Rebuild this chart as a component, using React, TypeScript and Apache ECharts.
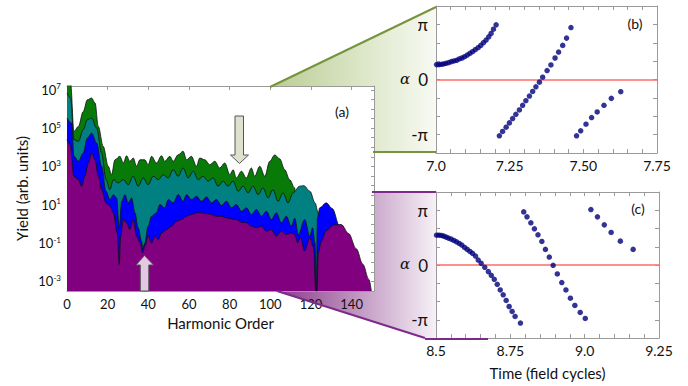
import React, { useEffect, useRef } from "react";
import * as echarts from "echarts";

// ---------- Panel (a): yield spectra, [harmonic order, log10(yield)] ----------
const greenSpectrum = [
  [0, 7.4], [1.8, 7.3], [3.4, 4.83], [5.6, 5.09], [8.0, 5.87], [10.0, 6.48], [12.1, 6.57], [13.8, 6.31],
  [15.4, 5.09], [17.8, 4.05], [20.3, 3.01], [21.9, 2.57], [23.6, 3.35], [26.0, 3.53], [27.7, 3.18],
  [29.3, 3.56], [30.9, 3.27], [32.6, 3.44], [34.2, 3.01], [35.9, 3.35], [38.3, 3.35], [39.9, 3.09],
  [41.6, 3.53], [44.0, 3.18], [46.5, 3.56], [48.1, 3.27], [50.6, 3.53], [52.2, 3.27], [54.7, 3.61],
  [57.1, 3.79], [58.8, 3.35], [61.2, 3.53], [63.7, 3.01], [65.3, 3.44], [67.8, 3.35], [70.2, 3.09],
  [72.7, 3.27], [75.1, 2.92], [77.6, 3.18], [80.1, 2.57], [81.7, 2.83], [83.3, 2.4], [85.8, 2.75],
  [88.2, 2.4], [90.7, 2.92], [92.3, 2.49], [94.8, 3.01], [97.3, 2.49], [99.7, 3.27], [102.2, 3.6],
  [104.6, 3.4], [107.1, 2.83], [109.5, 2.31], [112.0, 1.88], [113.5, -3.5],
];
const tealSpectrum = [
  [0, 6.83], [1.8, 6.57], [3.4, 4.4], [5.6, 4.31], [8.0, 4.92], [10.0, 5.44], [12.1, 5.52], [14.6, 5.0],
  [17.0, 3.7], [19.2, 2.31], [21.1, 1.79], [22.8, 2.31], [25.2, 2.14], [27.7, 2.31], [30.1, 2.05],
  [32.6, 2.49], [35.0, 1.97], [37.5, 2.4], [39.9, 2.05], [42.4, 2.49], [44.9, 2.31], [47.3, 2.57],
  [49.8, 2.4], [52.2, 2.83], [54.7, 2.49], [57.1, 2.92], [59.6, 2.4], [62.1, 2.75], [64.5, 2.31],
  [67.0, 2.49], [69.4, 2.23], [71.9, 2.4], [74.3, 1.97], [76.8, 2.23], [79.2, 1.97], [81.7, 2.23],
  [84.2, 1.7], [86.6, 1.97], [89.1, 1.62], [91.5, 1.97], [94.0, 1.53], [96.4, 1.88], [98.9, 1.36],
  [101.3, 1.79], [103.8, 1.18], [106.3, 1.62], [108.7, 1.1], [111.2, 1.62], [114.4, 1.97],
  [116.5, 2.0], [119.5, 1.7], [122.0, 1.1], [123.5, 0.6], [124.5, -3.5],
];
const blueSpectrum = [
  [0, 5.52], [2.3, 5.26], [3.4, 3.53], [5.6, 3.27], [8.0, 3.7], [10.0, 4.48], [12.1, 4.74], [14.6, 4.22],
  [17.0, 3.01], [19.2, 1.7], [21.1, 1.27], [22.8, 1.53], [24.4, 1.36], [25.7, -0.2], [26.9, 1.18],
  [28.5, 1.53], [30.1, 1.1], [31.8, 1.36], [33.4, 0.58], [35.0, -0.2], [36.7, -0.9], [37.2, -1.3],
  [38.3, -0.99], [39.9, -0.12], [41.6, 0.4], [44.0, 0.58], [45.7, 1.01], [48.1, 0.84], [49.8, 1.27],
  [52.2, 1.1], [54.7, 1.53], [57.1, 1.18], [58.8, 1.53], [61.2, 1.27], [63.7, 1.44], [66.1, 1.18],
  [68.6, 1.41], [71.1, 1.1], [73.5, 1.27], [76.0, 0.96], [78.4, 1.18], [80.9, 0.84], [83.3, 1.01],
  [85.8, 0.66], [88.2, 0.84], [90.7, 0.49], [93.2, 0.75], [95.6, 0.4], [98.1, 0.66], [100.5, 0.23],
  [103.0, 0.58], [105.4, 0.06], [107.9, 0.4], [110.3, -0.12], [112.0, 0.3], [113.8, -0.55],
  [116.9, 0.23], [119.4, -0.64], [120.8, -0.2], [122.0, -1.0], [122.6, -3.5], [123.2, 0.3],
  [124.3, 0.84], [127.5, 1.1], [130.5, 0.8], [134.1, -0.12], [136.0, -1.0], [137.5, -3.5],
];
const purpleSpectrum = [
  [0, 4.4], [1.5, 4.14], [3.4, 2.49], [5.6, 2.31], [7.2, 1.97], [8.8, 2.49], [10.5, 3.18], [12.1, 3.7],
  [13.8, 3.35], [15.4, 2.49], [17.0, 1.79], [19.2, 1.1], [21.1, 0.92], [22.8, 0.58], [24.7, -0.47],
  [25.7, -2.11], [26.4, -0.64], [27.7, 0.23], [29.3, 0.06], [30.9, -0.29], [32.6, 0.23], [34.2, -0.64],
  [35.9, -0.99], [37.2, -1.51], [38.3, -1.16], [39.9, -0.64], [41.6, -0.99], [43.2, -0.64],
  [44.9, -0.81], [46.5, -0.47], [49.0, -0.29], [51.4, -0.12], [53.9, 0.14], [56.3, 0.23], [58.8, 0.4],
  [61.2, 0.49], [63.7, 0.58], [66.1, 0.58], [68.6, 0.54], [71.1, 0.49], [73.5, 0.4], [76.0, 0.4],
  [78.4, 0.32], [80.9, 0.26], [83.3, 0.23], [85.8, 0.09], [88.2, 0.06], [90.7, -0.12], [93.2, -0.2],
  [95.6, -0.12], [98.1, -0.38], [100.5, -0.29], [103.0, -0.64], [105.4, -0.38], [107.9, -0.55],
  [110.3, -0.47], [112.0, -0.56], [113.5, -0.98], [114.8, -0.72], [116.9, -1.41], [119.4, -0.72],
  [121.2, -1.2], [122.4, -3.5], [123.0, -3.5], [123.6, -1.5], [125.1, -0.9], [127.5, -0.35],
  [131.0, -0.05], [134.9, -0.03], [138.5, -0.5], [142.3, -1.3], [145.5, -2.1], [148.5, -2.9],
  [149.7, -3.5],
];
const yieldExponentLabels = [7, 5, 3, 1, -1, -3];

// ---------- Panel (b): [time (field cycles), alpha / pi] ----------
const bBranch1 = [
  [7.002, 0.27], [7.01, 0.27], [7.018, 0.276], [7.026, 0.282], [7.034, 0.294], [7.043, 0.306],
  [7.052, 0.324], [7.061, 0.336], [7.07, 0.348], [7.079, 0.372], [7.088, 0.39], [7.097, 0.414],
  [7.106, 0.444], [7.115, 0.474], [7.124, 0.505], [7.133, 0.541], [7.143, 0.577], [7.152, 0.619],
  [7.161, 0.667], [7.17, 0.715], [7.179, 0.775], [7.187, 0.835], [7.195, 0.913], [7.204, 0.991],
];
const bBranch2 = [
  [7.215, -1.021], [7.226, -0.943], [7.238, -0.865], [7.249, -0.787], [7.26, -0.709], [7.271, -0.631],
  [7.283, -0.553], [7.294, -0.468], [7.305, -0.384], [7.317, -0.3], [7.328, -0.216], [7.339, -0.132],
  [7.351, -0.048], [7.362, 0.042], [7.377, 0.162], [7.39, 0.264], [7.404, 0.39], [7.416, 0.498],
  [7.43, 0.619], [7.443, 0.751], [7.458, 0.943],
];
const bBranch3 = [
  [7.477, -1.021], [7.491, -0.931], [7.509, -0.811], [7.528, -0.691], [7.547, -0.589], [7.57, -0.468],
  [7.595, -0.342], [7.627, -0.222],
];

// ---------- Panel (c): [time (field cycles), alpha / pi] ----------
const cBranch1 = [
  [8.502, 0.545], [8.51, 0.545], [8.518, 0.539], [8.526, 0.527], [8.534, 0.509], [8.542, 0.491],
  [8.551, 0.473], [8.56, 0.448], [8.569, 0.424], [8.578, 0.394], [8.587, 0.364], [8.596, 0.321],
  [8.605, 0.285], [8.614, 0.248], [8.623, 0.212], [8.633, 0.164], [8.642, 0.091], [8.652, 0.03],
  [8.664, -0.042], [8.676, -0.121], [8.686, -0.188], [8.696, -0.261], [8.706, -0.352], [8.716, -0.455],
  [8.726, -0.545], [8.736, -0.648], [8.746, -0.758], [8.756, -0.848], [8.766, -0.939], [8.784, -1.061],
];
const cBranch2 = [
  [8.795, 0.97], [8.806, 0.879], [8.819, 0.77], [8.831, 0.661], [8.843, 0.552], [8.856, 0.43],
  [8.868, 0.285], [8.881, 0.145], [8.894, -0.006], [8.908, -0.164], [8.923, -0.321], [8.937, -0.455],
  [8.952, -0.606], [8.967, -0.739], [8.985, -0.867], [9.002, -0.976],
];
const cBranch3 = [
  [9.021, 1.012], [9.043, 0.879], [9.066, 0.733], [9.089, 0.594], [9.12, 0.436], [9.163, 0.285],
];

const bTickValues = [7.0, 7.25, 7.5, 7.75];
const bTickLabels = ["7.0", "7.25", "7.50", "7.75"];
const cTickValues = [8.5, 8.75, 9.0, 9.25];
const cTickLabels = ["8.5", "8.75", "9.0", "9.25"];
const piTickValues = [-1, 0, 1];
const piTickLabels = ["-π", "0", "π"];

const FONT = "Lato, 'Open Sans', sans-serif";
const FRAME = "#9a9a9a";

function pickLabel(values: number[], labels: string[], v: number) {
  for (let i = 0; i < values.length; i++) {
    if (Math.abs(values[i] - v) < 1e-6) return labels[i];
  }
  return "";
}

export default function App() {
  const ref = useRef<HTMLDivElement>(null);

  useEffect(() => {
    document.body.style.margin = "0";
    if (!ref.current) return;
    const chart = echarts.init(ref.current, null, { renderer: "svg" });

    const frameAxis = { show: true, onZero: false, lineStyle: { color: FRAME, width: 1 } };
    const innerTick = { show: true, inside: true, length: 4, lineStyle: { color: FRAME } };

    const areaSeries = (data: number[][], color: string, z: number) => ({
      type: "line",
      xAxisIndex: 0,
      yAxisIndex: 0,
      data,
      z,
      showSymbol: false,
      smooth: 0.35,
      smoothMonotone: "x",
      clip: true,
      lineStyle: { color: "#111", width: 0.8 },
      areaStyle: { color, opacity: 1, origin: "start" },
    });

    const dots = (data: number[][], xi: number, yi: number, withZero: boolean) => ({
      type: "scatter",
      xAxisIndex: xi,
      yAxisIndex: yi,
      data,
      symbolSize: 5.5,
      itemStyle: { color: "#00007c" },
      z: 5,
      markLine: withZero
        ? {
            silent: true,
            symbol: "none",
            z: 3,
            label: { show: false },
            lineStyle: { color: "#ff6b6b", width: 1.5, type: "solid", opacity: 1 },
            data: [{ yAxis: 0 }],
          }
        : undefined,
    });

    const phaseY = (gridIndex: number, right: boolean) => ({
      type: "value",
      gridIndex,
      position: right ? "right" : "left",
      min: -4 / 3,
      max: 4 / 3,
      interval: 1 / 3,
      splitLine: { show: false },
      axisLine: frameAxis,
      axisTick: innerTick,
      axisLabel: right
        ? { show: false }
        : {
            margin: 8,
            fontSize: 17,
            fontFamily: FONT,
            color: "#111",
            formatter: (v: number) => pickLabel(piTickValues, piTickLabels, Math.round(v * 3) / 3),
          },
    });

    const timeX = (gridIndex: number, min: number, max: number, top: boolean, vals: number[], labs: string[], name?: string) => ({
      type: "value",
      gridIndex,
      position: top ? "top" : "bottom",
      min,
      max,
      interval: 0.05,
      splitLine: { show: false },
      axisLine: frameAxis,
      axisTick: innerTick,
      name: name || "",
      nameLocation: "middle",
      nameGap: 27,
      nameTextStyle: { fontSize: 15, fontFamily: FONT, color: "#111" },
      axisLabel: top
        ? { show: false }
        : {
            margin: 5,
            fontSize: 14,
            fontFamily: FONT,
            color: "#111",
            showMaxLabel: true,
            formatter: (v: number) => pickLabel(vals, labs, Math.round(v * 100) / 100),
          },
    });

    const option = {
      animation: false,
      grid: [
        { left: 67, top: 86, width: 307, height: 205, show: true, backgroundColor: "#fff", borderWidth: 0 },
        { left: 436, top: 6, width: 221, height: 147, show: true, backgroundColor: "#fff", borderWidth: 0 },
        { left: 436, top: 192, width: 223, height: 146, show: true, backgroundColor: "#fff", borderWidth: 0 },
      ],
      xAxis: [
        {
          type: "value",
          gridIndex: 0,
          position: "bottom",
          min: 0,
          max: 151,
          interval: 20,
          splitLine: { show: false },
          axisLine: frameAxis,
          axisTick: { show: false },
          name: "Harmonic Order",
          nameLocation: "middle",
          nameGap: 24,
          nameTextStyle: { fontSize: 15, fontFamily: FONT, color: "#111" },
          axisLabel: {
            margin: 6,
            fontSize: 13,
            fontFamily: FONT,
            color: "#111",
            formatter: (v: number) => (Math.abs(v % 20) < 1e-6 ? String(v) : ""),
          },
        },
        {
          type: "value",
          gridIndex: 0,
          position: "top",
          min: 0,
          max: 151,
          interval: 20,
          splitLine: { show: false },
          axisLine: frameAxis,
          axisTick: innerTick,
          axisLabel: { show: false },
        },
        timeX(1, 7.0, 7.75, false, bTickValues, bTickLabels),
        timeX(1, 7.0, 7.75, true, bTickValues, bTickLabels),
        timeX(2, 8.5, 9.25, false, cTickValues, cTickLabels, "Time (field cycles)"),
        timeX(2, 8.5, 9.25, true, cTickValues, cTickLabels),
      ],
      yAxis: [
        {
          type: "value",
          gridIndex: 0,
          position: "left",
          min: -3.5,
          max: 7.2,
          interval: 0.5,
          splitLine: { show: false },
          axisLine: frameAxis,
          axisTick: { show: false },
          name: "Yield (arb. units)",
          nameLocation: "middle",
          nameRotate: 90,
          nameGap: 38,
          nameTextStyle: { fontSize: 15, fontFamily: FONT, color: "#111" },
          axisLabel: {
            margin: 6,
            fontFamily: FONT,
            color: "#111",
            formatter: (v: number) => {
              const r = Math.round(v * 2) / 2;
              return yieldExponentLabels.indexOf(r) >= 0 ? `{b|10}{s|${r}}` : "";
            },
            rich: {
              b: { fontSize: 13, fontFamily: FONT, color: "#111" },
              s: { fontSize: 8, fontFamily: FONT, color: "#111", padding: [0, 0, 7, 0] },
            },
          },
        },
        {
          type: "value",
          gridIndex: 0,
          position: "right",
          min: -3.5,
          max: 7.2,
          interval: 0.5,
          splitLine: { show: false },
          axisLine: frameAxis,
          axisTick: { show: true, inside: true, length: 3, lineStyle: { color: FRAME } },
          axisLabel: { show: false },
        },
        phaseY(1, false),
        phaseY(1, true),
        phaseY(2, false),
        phaseY(2, true),
      ],
      series: [
        areaSeries(greenSpectrum, "#077a07", 2),
        areaSeries(tealSpectrum, "#008080", 3),
        areaSeries(blueSpectrum, "#0000ff", 4),
        areaSeries(purpleSpectrum, "#800080", 5),
        dots(bBranch1, 2, 2, true),
        dots(bBranch2, 2, 2, false),
        dots(bBranch3, 2, 2, false),
        dots(cBranch1, 4, 4, true),
        dots(cBranch2, 4, 4, false),
        dots(cBranch3, 4, 4, false),
      ],
      graphic: [
        {
          type: "polygon",
          z: -1,
          shape: { points: [[270, 87], [436, 7], [436, 153], [373, 153], [373, 87]] },
          style: {
            fill: new echarts.graphic.LinearGradient(0, 0, 1, 0, [
              { offset: 0, color: "#b9cd93" },
              { offset: 1, color: "#f8faf3" },
            ]),
          },
        },
        {
          type: "polygon",
          z: -1,
          shape: { points: [[373, 192], [436, 192], [436, 338], [425, 338], [277, 291], [373, 291]] },
          style: {
            fill: new echarts.graphic.LinearGradient(0, 0, 1, 0, [
              { offset: 0, color: "#8a3a8a" },
              { offset: 1, color: "#f6f1f7" },
            ]),
          },
        },
        { type: "line", z: 10, shape: { x1: 270, y1: 87, x2: 436, y2: 7 }, style: { stroke: "#77933c", lineWidth: 2 } },
        { type: "line", z: 10, shape: { x1: 373, y1: 152, x2: 436, y2: 152 }, style: { stroke: "#77933c", lineWidth: 2 } },
        { type: "line", z: 10, shape: { x1: 372, y1: 192, x2: 436, y2: 192 }, style: { stroke: "#7d2a8a", lineWidth: 2 } },
        { type: "line", z: 10, shape: { x1: 277, y1: 291, x2: 425, y2: 338 }, style: { stroke: "#7d2a8a", lineWidth: 2 } },
        { type: "line", z: 10, shape: { x1: 425, y1: 339, x2: 488, y2: 339 }, style: { stroke: "#7d2a8a", lineWidth: 2 } },
        {
          type: "polygon",
          z: 100,
          shape: { points: [[235, 116], [243.5, 116], [243.5, 155], [248.5, 155], [239.5, 163.5], [230.5, 155], [235, 155]] },
          style: { fill: "#dde2cf", stroke: "#555", lineWidth: 1 },
        },
        {
          type: "polygon",
          z: 100,
          shape: { points: [[144.5, 255.5], [153.5, 265], [148.8, 265], [148.8, 291], [140.3, 291], [140.3, 265], [136, 265]] },
          style: { fill: "#e2c8e2", stroke: "#555", lineWidth: 1 },
        },
        {
          type: "text", z: 100, x: 342, y: 111,
          style: { text: "(a)", font: `14px ${FONT}`, fill: "#111", align: "center", verticalAlign: "middle", textAlign: "center", textVerticalAlign: "middle" },
        },
        {
          type: "text", z: 100, x: 635, y: 23,
          style: { text: "(b)", font: `14px ${FONT}`, fill: "#111", align: "center", verticalAlign: "middle", textAlign: "center", textVerticalAlign: "middle" },
        },
        {
          type: "text", z: 100, x: 638, y: 208,
          style: { text: "(c)", font: `14px ${FONT}`, fill: "#111", align: "center", verticalAlign: "middle", textAlign: "center", textVerticalAlign: "middle" },
        },
        {
          type: "text", z: 100, x: 405, y: 79,
          style: { text: "α", font: `italic 15px 'DejaVu Serif', serif`, fill: "#111", align: "center", verticalAlign: "middle", textAlign: "center", textVerticalAlign: "middle" },
        },
        {
          type: "text", z: 100, x: 405, y: 264,
          style: { text: "α", font: `italic 15px 'DejaVu Serif', serif`, fill: "#111", align: "center", verticalAlign: "middle", textAlign: "center", textVerticalAlign: "middle" },
        },
      ],
    };

    chart.setOption(option as any);
    return () => chart.dispose();
  }, []);

  return <div ref={ref} style={{ width: 688, height: 386 }} />;
}
